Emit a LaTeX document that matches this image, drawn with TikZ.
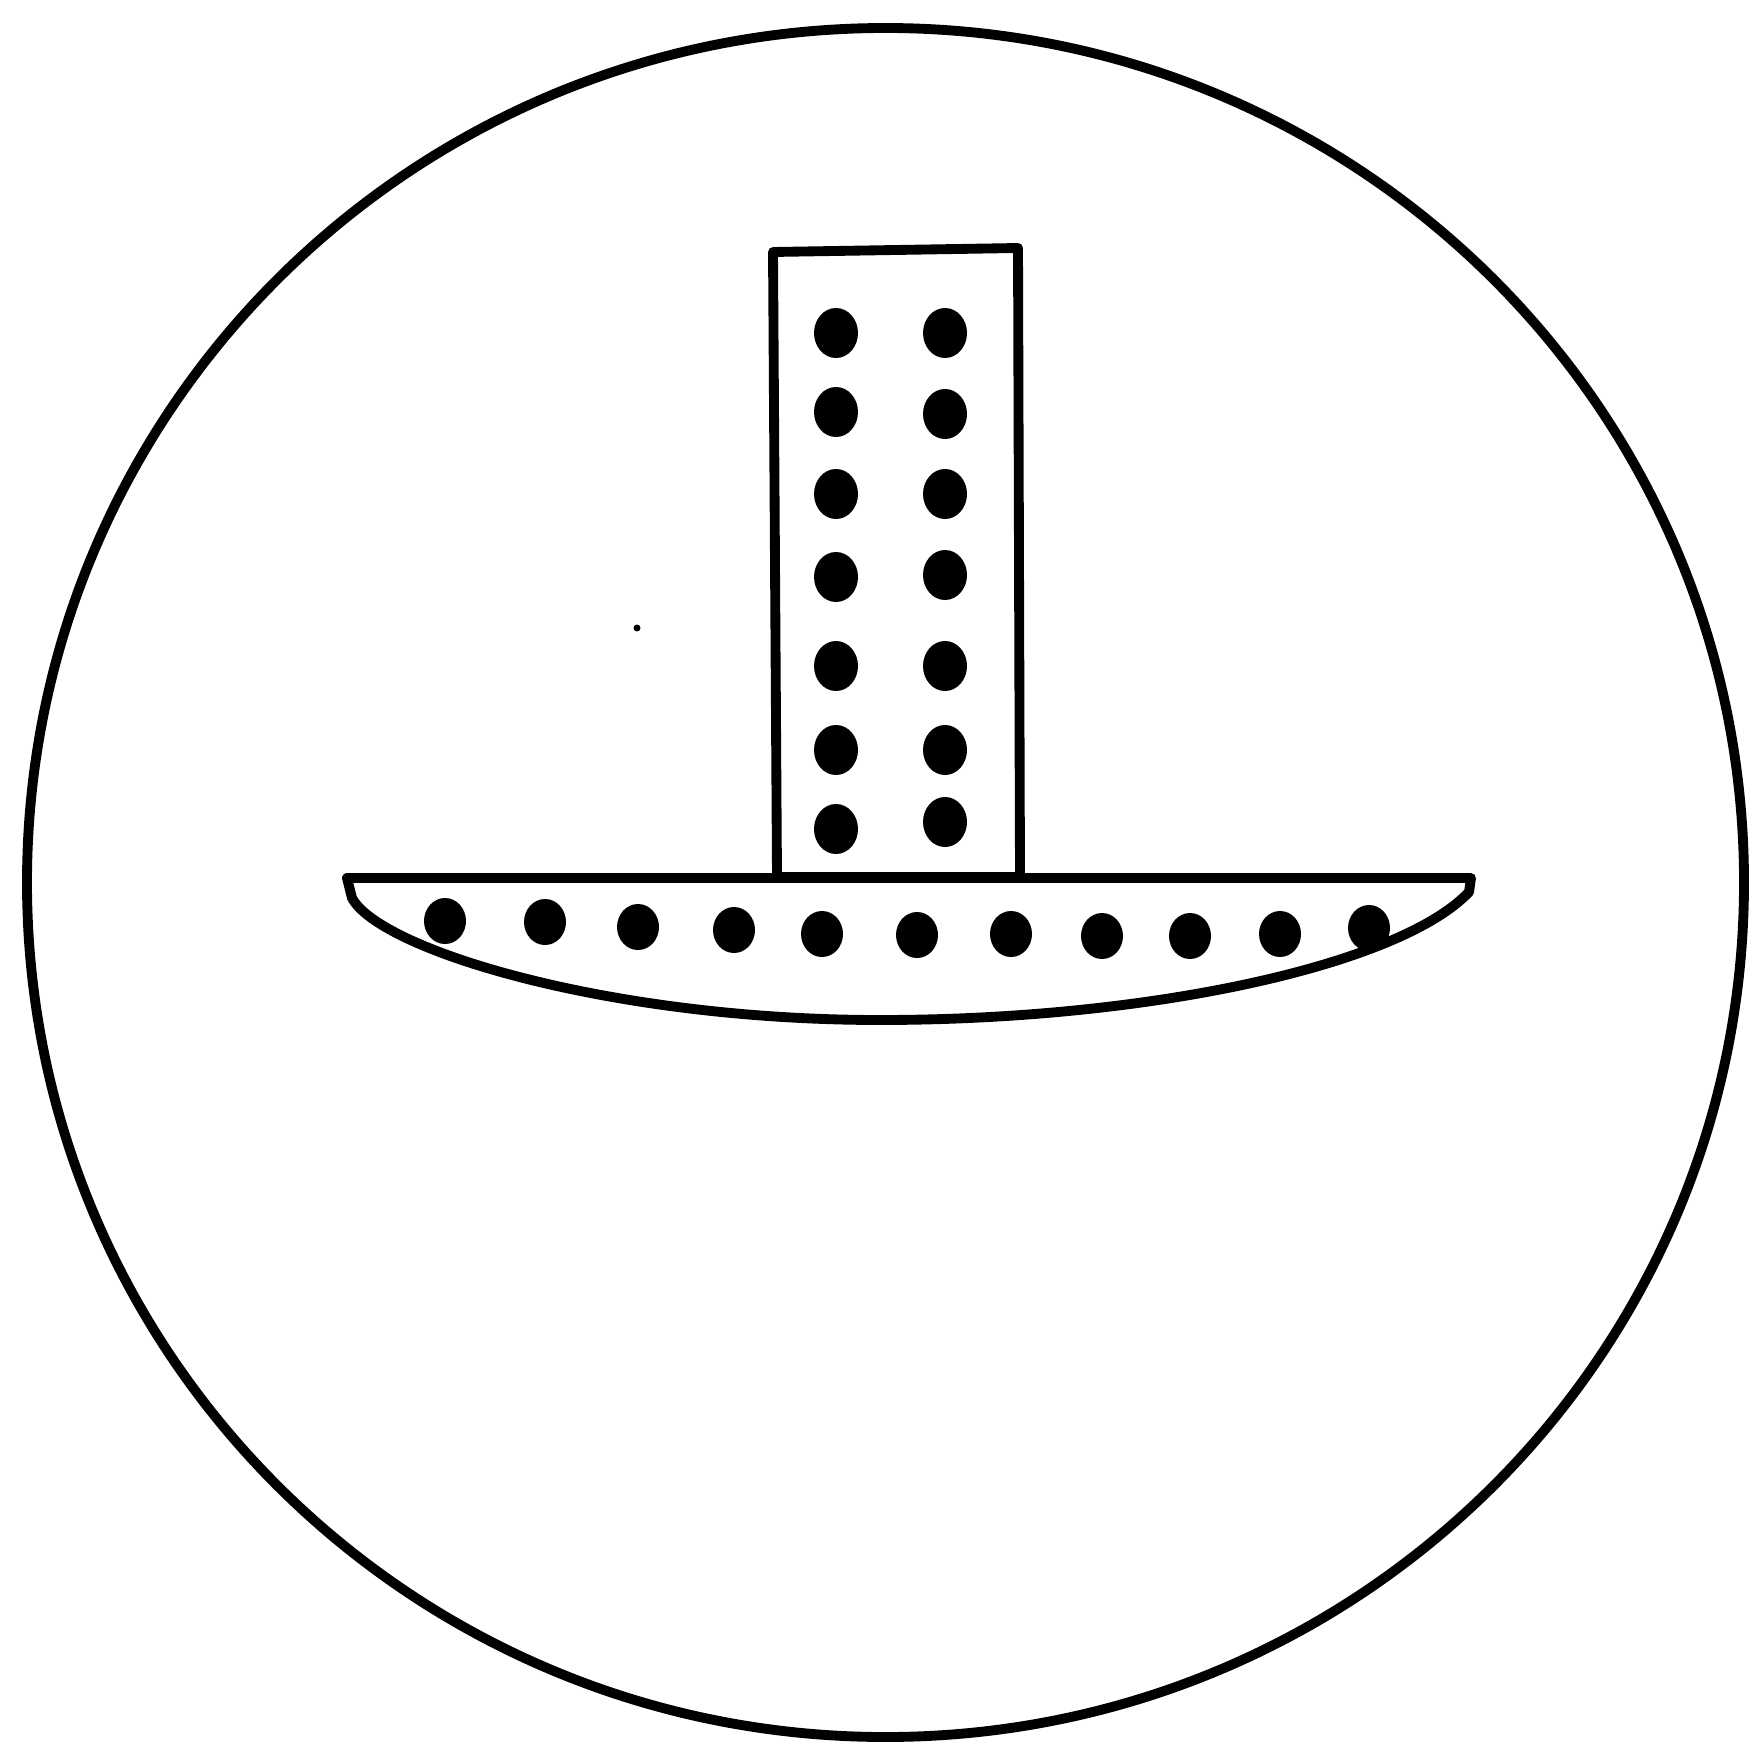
\documentclass[tikz,border=0pt]{standalone}
\begin{document}
\begin{tikzpicture}[x=0.01cm,y=-0.01cm,
  outline/.style={draw=black,line width=2.8pt,line join=round},
  hole/.style={fill=black}]
\useasboundingbox (0,0) rectangle (1752,1749);
% outer circle
\draw[outline] (885.5,882.5) ellipse [x radius=858.5,y radius=854.5];
% column
\draw[outline] (773,252) -- (1018,248) -- (1020,877) -- (777,877) -- cycle;
% bar
\draw[outline] (347,878) -- (1471,878) -- (1469,892)
  .. controls (1400,965) and (1150,1020) .. (880,1020)
  .. controls (610,1020) and (380,950) .. (352,898) -- cycle;
% dots in column
\foreach \ya/\yb in {333/333, 412/414, 494/494, 577/575, 666/666, 750/750, 829/822} {
  \fill[hole] (836,\ya) ellipse [x radius=22,y radius=25];
  \fill[hole] (945,\yb) ellipse [x radius=22,y radius=25];
}
% dots in bar
\foreach \x/\y in {445/921, 545/922, 638/927, 734/930, 822/934, 917/935, 1011/934, 1102/936, 1190/936, 1280/934, 1369/928} {
  \fill[hole] (\x,\y) ellipse [x radius=21,y radius=23];
}
% small speck
\fill[hole] (637,628) circle [radius=3.5];
\end{tikzpicture}
\end{document}
